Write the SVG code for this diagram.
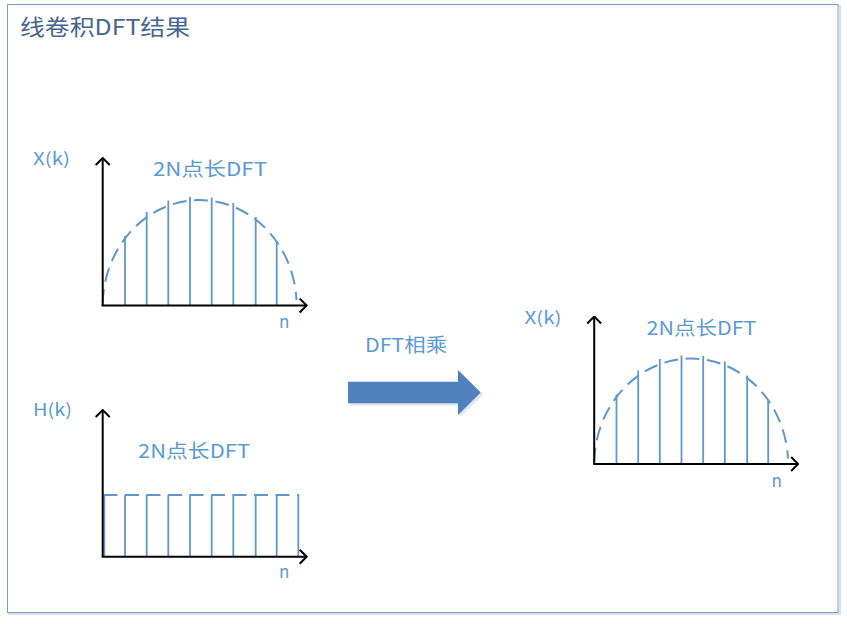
<svg xmlns="http://www.w3.org/2000/svg" width="847" height="624" viewBox="0 0 847 624">
<style>
.t{font-family:"Noto Sans CJK SC","Noto Sans",sans-serif;fill:#5b9bd5}
.title{font-family:"Noto Sans CJK SC","Noto Sans",sans-serif;fill:#44678e;font-size:22px}
.ax{stroke:#000;stroke-width:2;fill:none;marker-end:url(#ah)}
.st{stroke:#5f96cc;stroke-width:1.8;fill:none}
.dash{stroke:#5f96cc;stroke-width:2;fill:none;stroke-dasharray:14 7.5}
</style>
<defs>
<marker id="ah" viewBox="0 0 16 16" markerWidth="16" markerHeight="16" refX="15" refY="8" markerUnits="userSpaceOnUse" orient="auto">
<path d="M8,1 L15,8 L8,15" stroke="#000" stroke-width="2" fill="none"/>
</marker>
</defs>
<rect x="9" y="6" width="831" height="608" fill="none" stroke="#d6e1ee" stroke-width="2"/>
<rect x="7.5" y="4.5" width="830.5" height="608" fill="#fff" stroke="#7c9cc0" stroke-width="1"/>
<text id="title" class="title" x="20" y="35" textLength="170" lengthAdjust="spacingAndGlyphs">线卷积DFT结果</text>

<g id="plot-x">
<text class="t" x="33" y="165" font-size="17" textLength="37" lengthAdjust="spacingAndGlyphs">X(k)</text>
<text class="t" x="153" y="176" font-size="19" textLength="114" lengthAdjust="spacingAndGlyphs">2N点长DFT</text>
<path class="dash" d="M102.7,303 A97,106 0 0 1 296.5,300"/>
<path class="st" d="M125,305V236M146.7,305V212M168.3,305V200.5M190,305V197M211.7,305V197.5M233.3,305V203M255.7,305V217M276.7,305V241"/>
<path class="ax" d="M102.7,306V158"/>
<path class="ax" d="M101.7,305.5H306.7"/>
<text class="t" x="279" y="328" font-size="17">n</text>
</g>

<g id="plot-h">
<text class="t" x="33" y="416" font-size="17" textLength="39" lengthAdjust="spacingAndGlyphs">H(k)</text>
<text class="t" x="138" y="458" font-size="19" textLength="112" lengthAdjust="spacingAndGlyphs">2N点长DFT</text>
<path class="dash" d="M103.5,495H299"/>
<path class="st" d="M104.3,557V495M125,557V495M146.7,557V495M168.3,557V495M190,557V495M211.7,557V495M233.3,557V495M255.7,557V495M276.7,557V495M298.3,557V495"/>
<path class="ax" d="M102.7,557V410"/>
<path class="ax" d="M101.7,556.7H306.7"/>
<text class="t" x="279" y="578" font-size="17">n</text>
</g>

<g id="multiply">
<text class="t" x="365" y="352" font-size="19" textLength="82" lengthAdjust="spacingAndGlyphs">DFT相乘</text>
<path d="M350,384 H460 V372 L483,394.5 L460,417 V405.5 H350 Z" fill="#c9d6e6" opacity="0.6"/>
<path d="M348,381.7 H458 V370 L480.7,392.5 L458,415 V403.3 H348 Z" fill="#4f81bd"/>
</g>

<g id="plot-result" transform="translate(491.5,158.5)">
<text class="t" x="33" y="165" font-size="17" textLength="37" lengthAdjust="spacingAndGlyphs">X(k)</text>
<text class="t" x="155" y="176" font-size="19" textLength="110" lengthAdjust="spacingAndGlyphs">2N点长DFT</text>
<path class="dash" d="M102.7,303 A97,106 0 0 1 296.5,300"/>
<path class="st" d="M125,305V236M146.7,305V212M168.3,305V200.5M190,305V197M211.7,305V197.5M233.3,305V203M255.7,305V217M276.7,305V241"/>
<path class="ax" d="M102.7,306V158"/>
<path class="ax" d="M101.7,305.5H306.7"/>
<text class="t" x="280" y="328" font-size="17">n</text>
</g>
</svg>
